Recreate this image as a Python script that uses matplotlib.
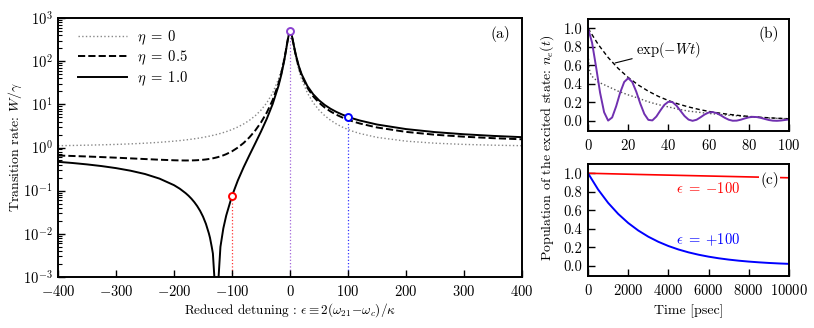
import numpy as np
import matplotlib
matplotlib.use("Agg")
import matplotlib.pyplot as plt

plt.rcParams['font.family'] = 'serif'
plt.rcParams['font.serif'] = ['cmr10']
plt.rcParams['mathtext.fontset'] = 'cm'
plt.rcParams['axes.formatter.use_mathtext'] = True
plt.rcParams['axes.unicode_minus'] = True
plt.rcParams['font.size'] = 10

# === panel (a): transition rate vs detuning ===
eps = [-400, -375, -350, -325, -300, -275, -250, -225, -200, -190,
       -180, -175, -170, -165, -160, -155, -150, -145, -140, -138,
       -135, -133, -131, -129, -127, -125, -123, -120, -115, -110,
       -100, -90, -80, -70, -60, -50, -40, -30, -20, -15,
       -10, -7, -5, -3, -1.5, 0, 1.5, 3, 5, 7,
       10, 15, 20, 30, 40, 50, 60, 70, 80, 90,
       100, 110, 120, 150, 200, 250, 300, 350, 400]
w_eta0 = [1.101, 1.115, 1.132, 1.153, 1.179, 1.213, 1.258, 1.318, 1.403, 1.446,
          1.497, 1.526, 1.557, 1.592, 1.629, 1.670, 1.716, 1.766, 1.822, 1.845,
          1.883, 1.910, 1.938, 1.967, 1.998, 2.030, 2.064, 2.118, 2.217, 2.329,
          2.608, 2.983, 3.507, 4.269, 5.439, 7.366, 10.87, 18.28, 38.19, 63.36,
          121.7, 196.2, 276.1, 379.3, 450.4, 480.5, 450.4, 379.3, 276.1, 196.2,
          121.7, 63.36, 38.19, 18.28, 10.87, 7.366, 5.439, 4.269, 3.507, 2.983,
          2.608, 2.329, 2.118, 1.716, 1.403, 1.258, 1.179, 1.132, 1.101]
w_eta05 = [0.652, 0.636, 0.619, 0.600, 0.581, 0.560, 0.540, 0.521, 0.506, 0.502,
           0.5005, 0.501, 0.502, 0.5045, 0.508, 0.5135, 0.520, 0.529, 0.541, 0.546,
           0.555, 0.562, 0.570, 0.578, 0.587, 0.596, 0.607, 0.624, 0.659, 0.701,
           0.817, 0.996, 1.274, 1.721, 2.473, 3.821, 6.475, 12.50, 29.91, 52.94,
           108.3, 181.0, 260.7, 366.6, 442.9, 480.5, 457.9, 391.9, 291.4, 211.4,
           135.1, 73.78, 46.48, 24.05, 15.27, 10.91, 8.405, 6.818, 5.740, 4.971,
           4.398, 3.958, 3.611, 2.911, 2.300, 1.976, 1.778, 1.645, 1.550]
w_eta1 = [0.466, 0.4375, 0.406, 0.3714, 0.333, 0.290, 0.243, 0.190, 0.134, 0.1108,
          0.0876, 0.0763, 0.0651, 0.0542, 0.0438, 0.0340, 0.0250, 0.0170, 0.0103, 0.0081,
          0.0050, 0.0035, 0.0013, 0.0005, 0.0001, 0.0005, 0.0011, 0.0050, 0.0134, 0.0266,
          0.0760, 0.1725, 0.349, 0.665, 1.245, 2.353, 4.654, 10.11, 26.48, 48.63,
          102.7, 174.7, 254.4, 361.4, 439.8, 480.5, 461.0, 397.1, 297.7, 217.7,
          140.7, 78.09, 49.91, 26.44, 17.09, 12.38, 9.633, 7.873, 6.665, 5.794,
          5.139, 4.632, 4.229, 3.407, 2.672, 2.273, 2.026, 1.857, 1.736]
mark_eps = [-100, 0, 100]
mark_w = [0.076, 500, 5.14]
mark_colors = ['#ff0000', '#8a3fd0', '#0000ff']

# === panel (b): short-time population ===
t_b = list(range(0, 101, 2))
n_osc = [1.0, 0.8448, 0.5818, 0.3028, 0.0928, 0.0025, 0.0363, 0.1572, 0.3051, 0.4197,
         0.4609, 0.4194, 0.3149, 0.1861, 0.0745, 0.0104, 0.0043, 0.0463, 0.1120, 0.1729,
         0.2062, 0.2020, 0.1642, 0.1079, 0.0521, 0.0132, 0.0, 0.0114, 0.0385, 0.0684,
         0.0894, 0.0944, 0.0828, 0.0596, 0.0332, 0.0118, 0.0009, 0.0020, 0.0120, 0.0258,
         0.0375, 0.0429, 0.0405, 0.0317, 0.0198, 0.0087, 0.0017, 0.0001, 0.0033, 0.0092,
         0.0152]
t_env = list(range(0, 101, 5))
n_env = [1.0, 0.827, 0.684, 0.566, 0.468, 0.387, 0.320, 0.264, 0.219, 0.181, 0.150,
         0.124, 0.102, 0.0846, 0.0700, 0.0578, 0.0478, 0.0396, 0.0327, 0.0271, 0.0224]
t_gray = [0, 0.5, 1, 2, 5, 10, 15, 20, 25, 30, 35, 40, 45, 50, 60, 70, 80, 90, 100]
n_gray = [0.75, 0.58, 0.52, 0.48, 0.42, 0.37, 0.32, 0.28, 0.245, 0.205, 0.175, 0.15,
          0.125, 0.105, 0.08, 0.06, 0.045, 0.03, 0.022]

# === panel (c): long-time population ===
t_c = list(range(0, 10001, 500))
n_plus = [1.0, 0.8247, 0.6801, 0.5609, 0.4626, 0.3815, 0.3146, 0.2595, 0.2140, 0.1765,
          0.1455, 0.1200, 0.0990, 0.0816, 0.0673, 0.0555, 0.0458, 0.0378, 0.0311, 0.0257,
          0.0212]
t_red = [0, 2500, 5000, 7500, 10000]
n_minus = [1.0, 0.987, 0.975, 0.963, 0.951]

fig = plt.figure(figsize=(8.14, 3.28), dpi=100)
ax_a = fig.add_axes([0.0713, 0.1555, 0.570, 0.7896])
ax_b = fig.add_axes([0.7224, 0.6006, 0.2469, 0.3415])
ax_c = fig.add_axes([0.7224, 0.1585, 0.2469, 0.3415])

for ax in (ax_a, ax_b, ax_c):
    for s in ax.spines.values():
        s.set_linewidth(1.4)
    ax.tick_params(direction='in', which='both', top=False, right=False,
                   labelsize=10.5, pad=4)
    ax.tick_params(axis='x', pad=5)
    ax.tick_params(which='major', length=5, width=1)
    ax.tick_params(which='minor', length=3, width=0.8)

# (a)
ax_a.plot(eps, w_eta0, ':', color='#888888', lw=1.0, label=r'$\eta\;=\;0$')
ax_a.plot(eps, w_eta05, '--', color='black', lw=1.4, label=r'$\eta\;=\;0.5$')
ax_a.plot(eps, w_eta1, '-', color='black', lw=1.4, label=r'$\eta\;=\;1.0$')
for x, y, c in zip(mark_eps, mark_w, mark_colors):
    ax_a.vlines(x, 1e-3, y, colors=c, linestyles=':', lw=0.9, alpha=0.8, zorder=1)
    ax_a.plot([x], [y], 'o', ms=5, mfc='white', mec=c, mew=1.4, zorder=5)
ax_a.set_yscale('log')
ax_a.set_xlim(-400, 400)
ax_a.set_ylim(1e-3, 1e3)
ax_a.set_xticks(range(-400, 401, 100))
ax_a.set_xlabel(r'Reduced detuning : $\epsilon \equiv 2(\omega_{21}\!-\!\omega_c)/\kappa$',
                fontsize=9.5, labelpad=2)
ax_a.set_ylabel(r'Transition rate: $W/\gamma$', fontsize=10, labelpad=-1)
ax_a.legend(loc='upper left', frameon=False, fontsize=10.5, handlelength=3.4,
            borderaxespad=0.3, labelspacing=0.15, handletextpad=0.7,
            bbox_to_anchor=(0.02, 1.0))
ax_a.text(0.975, 0.94, '(a)', transform=ax_a.transAxes, ha='right', va='center',
          fontsize=11)

# (b)
ax_b.plot(t_gray, n_gray, ':', color='#555555', lw=1.0)
ax_b.plot(t_env, n_env, '--', color='black', lw=1.0, dashes=(3, 2))
ax_b.plot(t_b, n_osc, '-', color='#7030b0', lw=1.4)
ax_b.set_xlim(0, 100)
ax_b.set_ylim(-0.11, 1.1)
ax_b.set_xticks(range(0, 101, 20))
ax_b.set_yticks([0.0, 0.2, 0.4, 0.6, 0.8, 1.0])
ax_b.yaxis.set_major_formatter(matplotlib.ticker.FormatStrFormatter('%.1f'))
ax_b.annotate(r'$\exp(-Wt)$', xy=(13.5, 0.625), xytext=(24, 0.77),
              ha='left', va='center', fontsize=10.5,
              arrowprops=dict(arrowstyle='-', lw=0.8, color='black',
                              shrinkA=1, shrinkB=0))
ax_b.text(0.95, 0.87, '(b)', transform=ax_b.transAxes, ha='right', va='center',
          fontsize=11)

# (c)
ax_c.plot(t_red, n_minus, '-', color='#ff0000', lw=1.2)
ax_c.plot(t_c, n_plus, '-', color='#0000ff', lw=1.4)
ax_c.set_xlim(0, 10000)
ax_c.set_ylim(-0.11, 1.1)
ax_c.set_xticks(range(0, 10001, 2000))
ax_c.set_yticks([0.0, 0.2, 0.4, 0.6, 0.8, 1.0])
ax_c.yaxis.set_major_formatter(matplotlib.ticker.FormatStrFormatter('%.1f'))
ax_c.text(4400, 0.84, r'$\epsilon\;=\;{-}100$', color='#ff0000', fontsize=10.5,
          ha='left', va='center')
ax_c.text(4400, 0.28, r'$\epsilon\;=\;{+}100$', color='#0000ff', fontsize=10.5,
          ha='left', va='center')
ax_c.text(0.95, 0.86, '(c)', transform=ax_c.transAxes, ha='right', va='center',
          fontsize=11, bbox=dict(fc='white', ec='none', pad=1))
ax_c.set_xlabel('Time [psec]', fontsize=10, labelpad=5)

fig.text(0.672, 0.55, r'Population of the excited state: $n_e(t)$',
         rotation=90, ha='center', va='center', fontsize=10)

fig.savefig('out.png', dpi=100)
